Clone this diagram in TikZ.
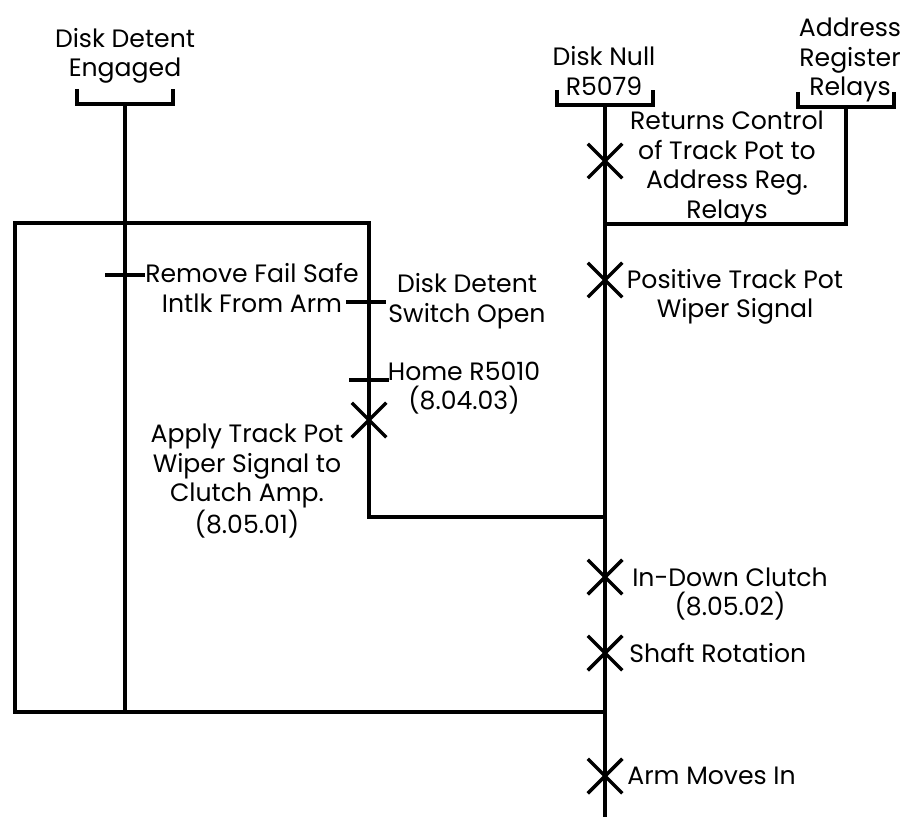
\documentclass[tikz,border=0pt]{standalone}
\usepackage{fontspec}
\setmainfont{Poppins}
\usetikzlibrary{shapes.misc,positioning}
\tikzset{
  lbl/.style={font=\fontsize{14.3}{16.8}\selectfont,align=center,inner sep=0pt},
  sig/.style={line width=2pt},
  brk/.style={line width=1.8pt},
  xmk/.style={cross out,draw,line width=2pt,minimum size=0.62cm,inner sep=0pt},
  tck/.style={fill=black,minimum width=0.8cm,minimum height=1.9pt,inner sep=0pt},
  brkt/.pic={\draw[brk] (-48,-15) |- (48,0) -- (48,-15);}
}
\begin{document}
\begin{tikzpicture}[x=0.02cm,y=-0.02cm]
  \useasboundingbox (0,0) rectangle (901,817);
  % sources
  \node[lbl] (detent) at (125,56) {Disk Detent\\Engaged};
  \node[lbl] (null) at (604,71) {Disk Null\\R5079};
  \node[lbl] (addr) at (850,60) {Address\\Register\\Relays};
  \coordinate (detB) at (125,104);
  \coordinate (nullB) at (605,105);
  \coordinate (addrB) at (846,107);
  \pic at (detB) {brkt};
  \pic at (nullB) {brkt};
  \pic at (addrB) {brkt};

  % junctions
  \coordinate (boxTR) at (369,223);
  \coordinate (boxBL) at (15,712);
  \coordinate (jBot) at (125,712);
  \coordinate (mainJ1) at (605,224);
  \coordinate (mainJ2) at (605,517);
  \coordinate (mainJ3) at (605,712);
  \coordinate (mainEnd) at (605,817);

  % events
  \node[xmk] (xRet) at (605,161) {};
  \node[xmk] (xPos) at (605,280) {};
  \node[xmk] (xApp) at (369,420) {};
  \node[xmk] (xClu) at (605,577) {};
  \node[xmk] (xSha) at (605,653) {};
  \node[xmk] (xArm) at (605,776) {};
  \node[tck] (tRem) at (125,275) {};
  \node[tck] (tDet) at (366,302) {};
  \node[tck] (tHom) at (369,380) {};

  \draw[sig] (detB) -- (jBot);
  \draw[sig] (nullB) -- (mainEnd);
  \draw[sig] (addrB) |- (mainJ1);
  \draw[sig] (mainJ2) -| (boxTR) -| (boxBL) -- (mainJ3);

  \node[lbl] (lRet) at (727,168) {Returns Control\\of Track Pot to\\Address Reg.\\Relays};
  \node[lbl] (lPos) at (735,297) {Positive Track Pot\\Wiper Signal};
  \node[lbl] (lRem) at (252,288) {Remove Fail Safe\\Intlk From Arm};
  \node[lbl] (lDet) at (467,301) {Disk Detent\\Switch Open};
  \node[lbl] (lHom) at (464,388) {Home R5010\\(8.04.03)};
  \node[lbl] (lApp) at (247,481) {Apply Track Pot\\Wiper Signal to\\Clutch Amp.\\(8.05.01)};
  \node[lbl] (lClu) at (730,594) {In-Down Clutch\\(8.05.02)};
  \node[lbl,right=0.48cm of xSha.center] (lSha) {Shaft Rotation};
  \node[lbl,right=0.44cm of xArm.center] (lArm) {Arm Moves In};
\end{tikzpicture}
\end{document}
